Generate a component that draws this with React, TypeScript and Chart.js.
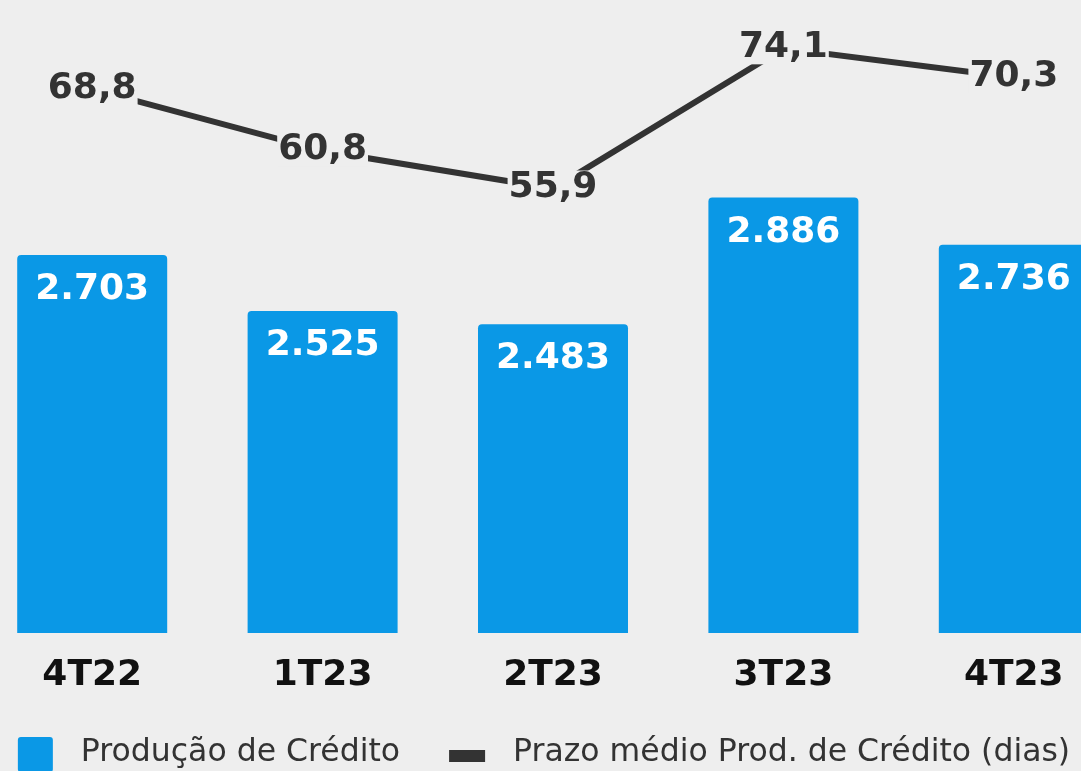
import React, { useEffect, useRef } from 'react';
import { Chart, registerables } from 'chart.js';

Chart.register(...registerables);

const categories = ['4T22', '1T23', '2T23', '3T23', '4T23'];
const producaoCredito = [2703, 2525, 2483, 2886, 2736];
const prazoMedio = [68.8, 60.8, 55.9, 74.1, 70.3];
const seriesNames = ['Produção de Crédito', 'Prazo médio Prod. de Crédito (dias)'];

const BG = '#eeeeee';
const BLUE = '#0a98e6';
const DARK = '#333333';
const FONT = '"DejaVu Sans", Verdana, sans-serif';

const fmtInt = (v: number) => String(v).replace(/\B(?=(\d{3})+(?!\d))/g, '.');
const fmtDec = (v: number) => v.toFixed(1).replace('.', ',');

const valueLabels = {
  id: 'valueLabels',
  afterDatasetsDraw(chart: any) {
    const ctx = chart.ctx;
    ctx.save();
    ctx.font = `bold 36px ${FONT}`;
    ctx.textAlign = 'center';
    ctx.textBaseline = 'middle';
    const barMeta = chart.getDatasetMeta(0);
    ctx.fillStyle = '#ffffff';
    barMeta.data.forEach((el: any, i: number) => {
      ctx.fillText(fmtInt(producaoCredito[i]), el.x, el.y + 35);
    });
    const lineMeta = chart.getDatasetMeta(1);
    lineMeta.data.forEach((el: any, i: number) => {
      const t = fmtDec(prazoMedio[i]);
      const w = ctx.measureText(t).width;
      ctx.fillStyle = BG;
      ctx.fillRect(el.x - w / 2 - 1, el.y - 18, w + 2, 34);
      ctx.fillStyle = DARK;
      ctx.fillText(t, el.x, el.y - 1);
    });
    ctx.restore();
  },
};

const customLegend = {
  id: 'customLegend',
  afterDraw(chart: any) {
    const ctx = chart.ctx;
    ctx.save();
    ctx.font = `31.5px ${FONT}`;
    const w1 = ctx.measureText(seriesNames[0]).width;
    const w2 = ctx.measureText(seriesNames[1]).width;
    const box = 35;
    const gap = 28;
    const itemGap = 49;
    const marker = 36;
    const total = box + gap + w1 + itemGap + marker + gap + w2;
    let x = chart.width / 2 - total / 2 - 9;
    const textY = 753;
    ctx.fillStyle = BLUE;
    ctx.beginPath();
    (ctx as any).roundRect(x, 737, box, box, 3);
    ctx.fill();
    x += box + gap;
    ctx.fillStyle = DARK;
    ctx.textAlign = 'left';
    ctx.textBaseline = 'middle';
    ctx.fillText(seriesNames[0], x, textY);
    x += w1 + itemGap;
    ctx.fillStyle = DARK;
    ctx.fillRect(x, 750, marker, 12);
    x += marker + gap;
    ctx.fillStyle = DARK;
    ctx.fillText(seriesNames[1], x, textY);
    ctx.restore();
  },
};

export default function App() {
  const ref = useRef<HTMLCanvasElement>(null);
  useEffect(() => {
    if (!ref.current) return;
    const chart = new Chart(ref.current, {
      type: 'bar',
      data: {
        labels: categories,
        datasets: [
          {
            type: 'bar',
            label: seriesNames[0],
            data: producaoCredito,
            backgroundColor: BLUE,
            borderRadius: { topLeft: 4, topRight: 4, bottomLeft: 0, bottomRight: 0 },
            borderSkipped: false,
            categoryPercentage: 1,
            barPercentage: 0.651,
            yAxisID: 'y',
            order: 1,
          },
          {
            type: 'line',
            label: seriesNames[1],
            data: prazoMedio,
            borderColor: DARK,
            borderWidth: 6,
            pointRadius: 0,
            tension: 0,
            yAxisID: 'y2',
            order: 0,
            clip: false,
          } as any,
        ],
      },
      options: {
        responsive: false,
        animation: false,
        layout: { padding: { top: 36, bottom: 52.8, left: 0, right: 0 } },
        plugins: { legend: { display: false }, tooltip: { enabled: false } },
        scales: {
          x: {
            grid: { display: false, drawTicks: false },
            border: { display: false },
            ticks: { color: '#111111', font: { family: FONT, size: 36, weight: 'bold' }, padding: 21 },
          },
          y: { display: false, min: 1500, max: 3400 },
          y2: { display: false, min: -1.8, max: 75.7, position: 'right' },
        },
      },
      plugins: [valueLabels, customLegend],
    });
    return () => chart.destroy();
  }, []);
  return (
    <div style={{ position: 'fixed', left: 0, top: 0, width: 1081, height: 771, overflow: 'hidden', background: BG }}>
      <canvas
        ref={ref}
        width={1152}
        height={771}
        style={{ position: 'absolute', left: -23, top: 0, width: 1152, height: 771 }}
      />
    </div>
  );
}
